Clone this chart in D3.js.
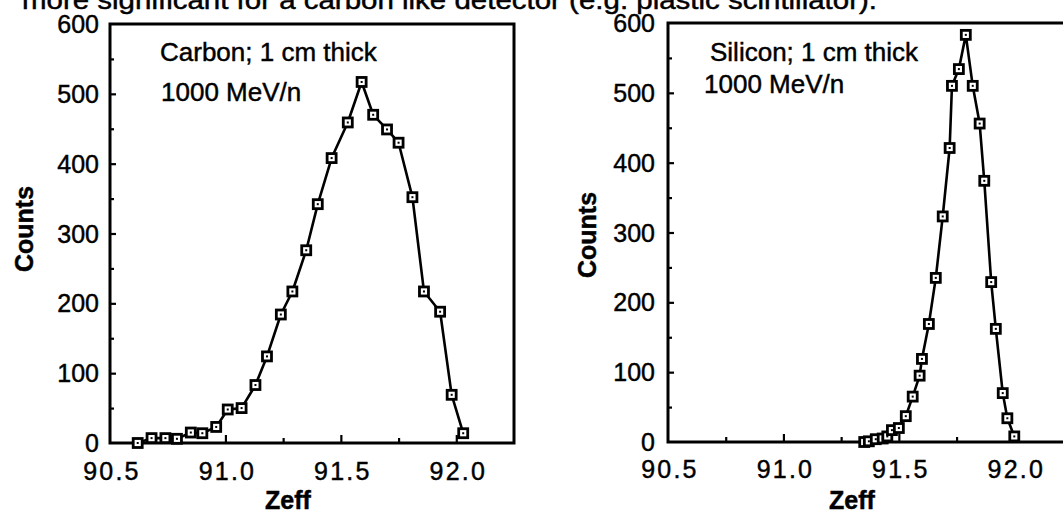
<!DOCTYPE html>
<html>
<head>
<meta charset="utf-8">
<script src="https://cdn.jsdelivr.net/npm/d3@7"></script>
<style>
  html, body { margin: 0; padding: 0; background: #fff; }
  svg { display: block; }
  text { font-family: "Liberation Sans", Arial, Helvetica, sans-serif; fill: #000; stroke: #000; stroke-width: 0.45px; }
</style>
</head>
<body>
<svg id="chart" width="1063" height="512"></svg>
<script>
// ---- data ----
const zCarbon = [90.62, 90.68, 90.74, 90.79, 90.85, 90.90, 90.96, 91.01, 91.07, 91.13, 91.18, 91.24, 91.29, 91.35, 91.40, 91.46, 91.53, 91.59, 91.64, 91.70, 91.75, 91.81, 91.86, 91.93, 91.98, 92.03];
const countsCarbon = [0, 7, 7, 6, 15, 14, 23, 48, 50, 83, 124, 184, 217, 276, 342, 408, 459, 517, 470, 449, 430, 352, 217, 188, 69, 14];
const zSilicon = [91.35, 91.37, 91.40, 91.43, 91.45, 91.47, 91.50, 91.53, 91.56, 91.59, 91.60, 91.63, 91.66, 91.69, 91.72, 91.73, 91.76, 91.79, 91.82, 91.85, 91.87, 91.90, 91.92, 91.95, 91.97, 92.00];
const countsSilicon = [0, 1, 4, 5, 8, 17, 20, 37, 65, 95, 119, 169, 235, 323, 421, 510, 534, 583, 510, 456, 374, 229, 162, 70, 34, 8];
const xTickLabels = [90.5, 91.0, 91.5, 92.0];
const xMinorTicks = [90.75, 91.25, 91.75];
const yTickLabels = [0, 100, 200, 300, 400, 500, 600];
const yMinorTicks = [50, 150, 250, 350, 450, 550];
const xDomain = [90.5, 92.25];
const yDomain = [0, 600];
const panelNotes = [["Carbon; 1 cm thick", "1000 MeV/n"], ["Silicon; 1 cm thick", "1000 MeV/n"]];
const headerText = "more significant for a carbon like detector (e.g. plastic scintillator).";

const svg = d3.select("#chart");

// header line (cropped at top of the scan)
svg.append("text")
  .attr("x", 22).attr("y", 9)
  .attr("font-size", 25)
  .attr("textLength", 855).attr("lengthAdjust", "spacingAndGlyphs")
  .text(headerText);

const panels = [
  { x0: 110, y0: 24, y1: 443, z: zCarbon, c: countsCarbon, notes: panelNotes[0],
    noteX: [160, 161], noteY: [61, 101], countsX: 33, countsY: 229, zeffX: 288, xlabY: 480, ylabGap: 11 },
  { x0: 668, y0: 23, y1: 442, z: zSilicon, c: countsSilicon, notes: panelNotes[1],
    noteX: [710, 704], noteY: [60.5, 92.5], countsX: 596, countsY: 235, zeffX: 852, xlabY: 478, ylabGap: 13 }
];

panels.forEach(p => {
  const x = d3.scaleLinear().domain(xDomain).range([p.x0, p.x0 + 404]);
  const y = d3.scaleLinear().domain(yDomain).range([p.y1, p.y0]);
  const g = svg.append("g");

  // frame
  g.append("rect")
    .attr("x", x(xDomain[0])).attr("y", y(yDomain[1]))
    .attr("width", x(xDomain[1]) - x(xDomain[0]))
    .attr("height", y(yDomain[0]) - y(yDomain[1]))
    .attr("fill", "none").attr("stroke", "#000").attr("stroke-width", 3);

  // x ticks (inward, from bottom)
  const xAxis = d3.axisBottom(x).tickValues(xTickLabels.slice(1)).tickSizeInner(-8).tickSizeOuter(0).tickFormat("");
  const gx = g.append("g").attr("transform", `translate(0,${p.y1})`).call(xAxis);
  const xAxisMinor = d3.axisBottom(x).tickValues(xMinorTicks).tickSizeInner(-5).tickSizeOuter(0).tickFormat("");
  const gxm = g.append("g").attr("transform", `translate(0,${p.y1})`).call(xAxisMinor);
  [gx, gxm].forEach(a => {
    a.select(".domain").remove();
    a.selectAll("line").attr("stroke", "#000").attr("stroke-width", 2.2);
  });

  // x tick labels
  g.selectAll(".xl").data(xTickLabels).enter().append("text")
    .attr("x", d => x(d) + 2)
    .attr("y", p.xlabY)
    .attr("text-anchor", "middle")
    .attr("font-size", 25)
    .attr("letter-spacing", 2.2)
    .text(d => d.toFixed(1));

  // y ticks (inward, from left)
  const yAxis = d3.axisLeft(y).tickValues(yTickLabels.slice(1, -1)).tickSizeInner(-6).tickSizeOuter(0).tickFormat("");
  const gy = g.append("g").attr("transform", `translate(${p.x0},0)`).call(yAxis);
  const yAxisMinor = d3.axisLeft(y).tickValues(yMinorTicks).tickSizeInner(-4).tickSizeOuter(0).tickFormat("");
  const gym = g.append("g").attr("transform", `translate(${p.x0},0)`).call(yAxisMinor);
  [gy, gym].forEach(a => {
    a.select(".domain").remove();
    a.selectAll("line").attr("stroke", "#000").attr("stroke-width", 2.2);
  });

  // y tick labels
  g.selectAll(".yl").data(yTickLabels).enter().append("text")
    .attr("x", p.x0 - p.ylabGap)
    .attr("y", d => y(d))
    .attr("dy", "0.36em")
    .attr("text-anchor", "end")
    .attr("font-size", 25)
    .text(d => d);

  // axis titles
  g.append("text")
    .attr("transform", `translate(${p.countsX},${p.countsY}) rotate(-90)`)
    .attr("text-anchor", "middle")
    .attr("font-size", 25).attr("font-weight", "bold")
    .text("Counts");
  g.append("text")
    .attr("x", p.zeffX).attr("y", 508.5)
    .attr("text-anchor", "middle")
    .attr("font-size", 25).attr("font-weight", "bold")
    .text("Zeff");

  // notes
  p.notes.forEach((t, i) => {
    g.append("text")
      .attr("x", p.noteX[i]).attr("y", p.noteY[i])
      .attr("font-size", 26)
      .text(t);
  });

  // data line
  const pts = p.z.map((z, i) => [z, p.c[i]]);
  g.append("path")
    .datum(pts)
    .attr("fill", "none").attr("stroke", "#000").attr("stroke-width", 2.6)
    .attr("stroke-linejoin", "round")
    .attr("d", d3.line().x(d => x(d[0])).y(d => y(d[1])));

  // markers
  const m = g.selectAll(".pt").data(pts).enter().append("g")
    .attr("transform", d => `translate(${x(d[0])},${y(d[1])})`);
  m.append("rect")
    .attr("x", -4.5).attr("y", -4.5).attr("width", 9).attr("height", 9)
    .attr("fill", "#fff").attr("stroke", "#000").attr("stroke-width", 2.8);
  m.append("rect")
    .attr("x", -1).attr("y", -1).attr("width", 2).attr("height", 2)
    .attr("fill", "#000");
});
</script>
</body>
</html>
